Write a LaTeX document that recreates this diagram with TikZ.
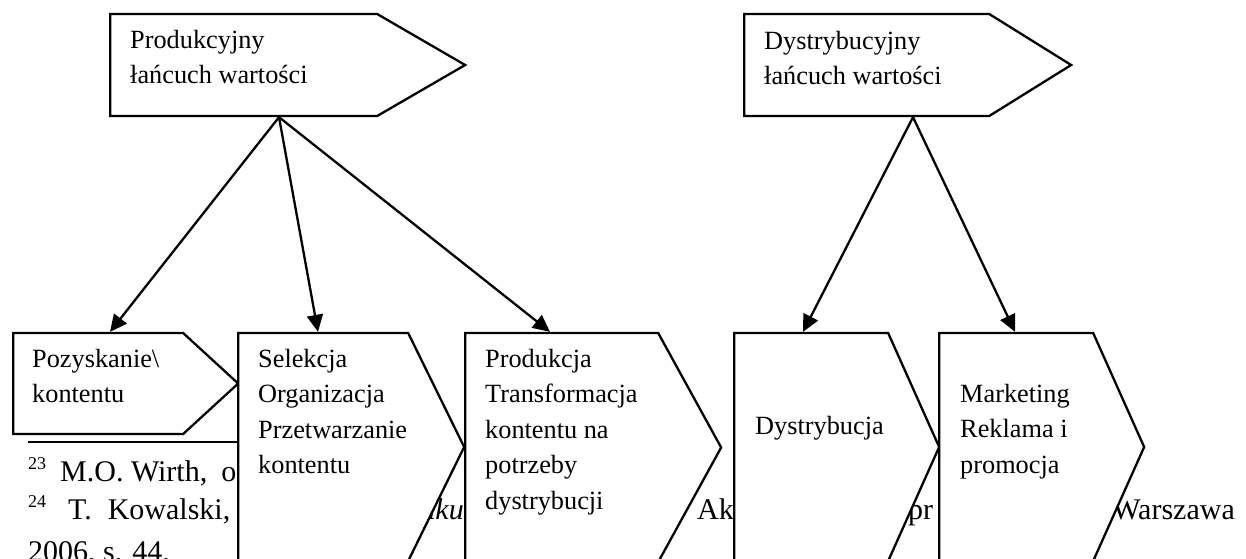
\documentclass[tikz,border=0pt]{standalone}
\usepackage{fontspec}
\setmainfont{Liberation Serif}
\usetikzlibrary{shapes.symbols, arrows.meta, calc}
\tikzset{
  chainbox/.style={signal, signal to=east, signal from=nowhere, draw=black,
                   fill=white, line width=2.3pt, inner sep=0pt},
  boxtext/.style={anchor=north west, inner sep=0pt, align=left,
                  font=\fontsize{26.3pt}{35.5pt}\selectfont},
  note/.style={anchor=base west, inner sep=0pt,
               font=\fontsize{30pt}{38pt}\selectfont},
  notemark/.style={anchor=base west, inner sep=0pt,
                   font=\fontsize{18pt}{18pt}\selectfont},
  link/.style={-{Triangle[length=17pt, width=16pt]}, draw=black, line width=2.3pt},
}

\begin{document}
\begin{tikzpicture}[x=1pt, y=-1pt]
  \clip (0,0) rectangle (1246,558);

  % footnotes of the page, partly hidden
  \node[notemark] (mark23) at (28,469) {23};
  \node[note] (wirth) at (60,481) {M.O. Wirth,\hspace{14pt}o};
  \node[notemark] (mark24) at (28,507) {24};
  \node[note] (kowalski) at (68,519) {T.\hspace{16pt}Kowalski,};
  \node[note, anchor=base east] (rynku) at (464,519) {\textit{nku}};
  \node[note] (akad) at (697,519) {Ak};
  \node[note] (prof) at (908,519) {pr};
  \node[note, anchor=base east] (warsaw) at (1235,519) {Warszawa};
  \node[note] (year) at (28,561) {2006, s. 44.};
  \draw[line width=2.3pt] (28,442) -- (240,442);

  % two chains
  \node[chainbox, minimum width=355pt, minimum height=102pt,
        signal pointer angle=60.2, anchor=west] (prodchain) at (109,65) {};
  \node[boxtext] (prodtext) at ($(prodchain.west |- prodchain.north)+(21,17)$)
    {Produkcyjny\\łańcuch wartości};
  \node[chainbox, minimum width=327pt, minimum height=102pt,
        signal pointer angle=63.8, anchor=west] (distchain) at (743,65) {};
  \node[boxtext] (disttext) at ($(distchain.west |- distchain.north)+(21,18)$)
    {Dystrybucyjny\\łańcuch wartości};

  % links of the chain
  \node[chainbox, minimum width=225pt, minimum height=101pt,
        signal pointer angle=85.1, anchor=west] (poz) at (12,383.5) {};
  \node[boxtext] (poztext) at ($(poz.west |- poz.north)+(20,17)$)
    {Pozyskanie\textbackslash\\kontentu};
  \node[chainbox, minimum width=226pt, minimum height=228pt,
        signal pointer angle=127.7, anchor=west] (sel) at (237,447) {};
  \node[boxtext] (seltext) at ($(sel.west |- sel.north)+(21,17)$)
    {Selekcja\\Organizacja\\Przetwarzanie\\kontentu};
  \node[chainbox, minimum width=256pt, minimum height=229pt,
        signal pointer angle=122.4, anchor=west] (prod) at (464,447.5) {};
  \node[boxtext] (prodtext2) at ($(prod.west |- prod.north)+(21,17)$)
    {Produkcja\\Transformacja\\kontentu na\\potrzeby\\dystrybucji};
  \node[chainbox, minimum width=205pt, minimum height=228pt,
        signal pointer angle=131.8, anchor=west] (dys) at (733,447) {};
  \node[boxtext] (dystext) at ($(dys.west |- dys.north)+(22,84)$)
    {Dystrybucja};
  \node[chainbox, minimum width=205pt, minimum height=228pt,
        signal pointer angle=131.8, anchor=west] (mar) at (938,447) {};
  \node[boxtext] (martext) at ($(mar.west |- mar.north)+(22,52)$)
    {Marketing\\Reklama i\\promocja};

  \draw[link] ($(prodchain.west |- prodchain.south)+(170,0)$) -- ($(poz.west |- poz.north)+(98,0)$);
  \draw[link] ($(prodchain.west |- prodchain.south)+(170,0)$) -- ($(sel.west |- sel.north)+(81,0)$);
  \draw[link] ($(prodchain.west |- prodchain.south)+(170,0)$) -- ($(prod.west |- prod.north)+(86,0)$);
  \draw[link] ($(distchain.west |- distchain.south)+(170,0)$) -- ($(dys.west |- dys.north)+(70,0)$);
  \draw[link] ($(distchain.west |- distchain.south)+(170,0)$) -- ($(mar.west |- mar.north)+(77,0)$);
\end{tikzpicture}
\end{document}
